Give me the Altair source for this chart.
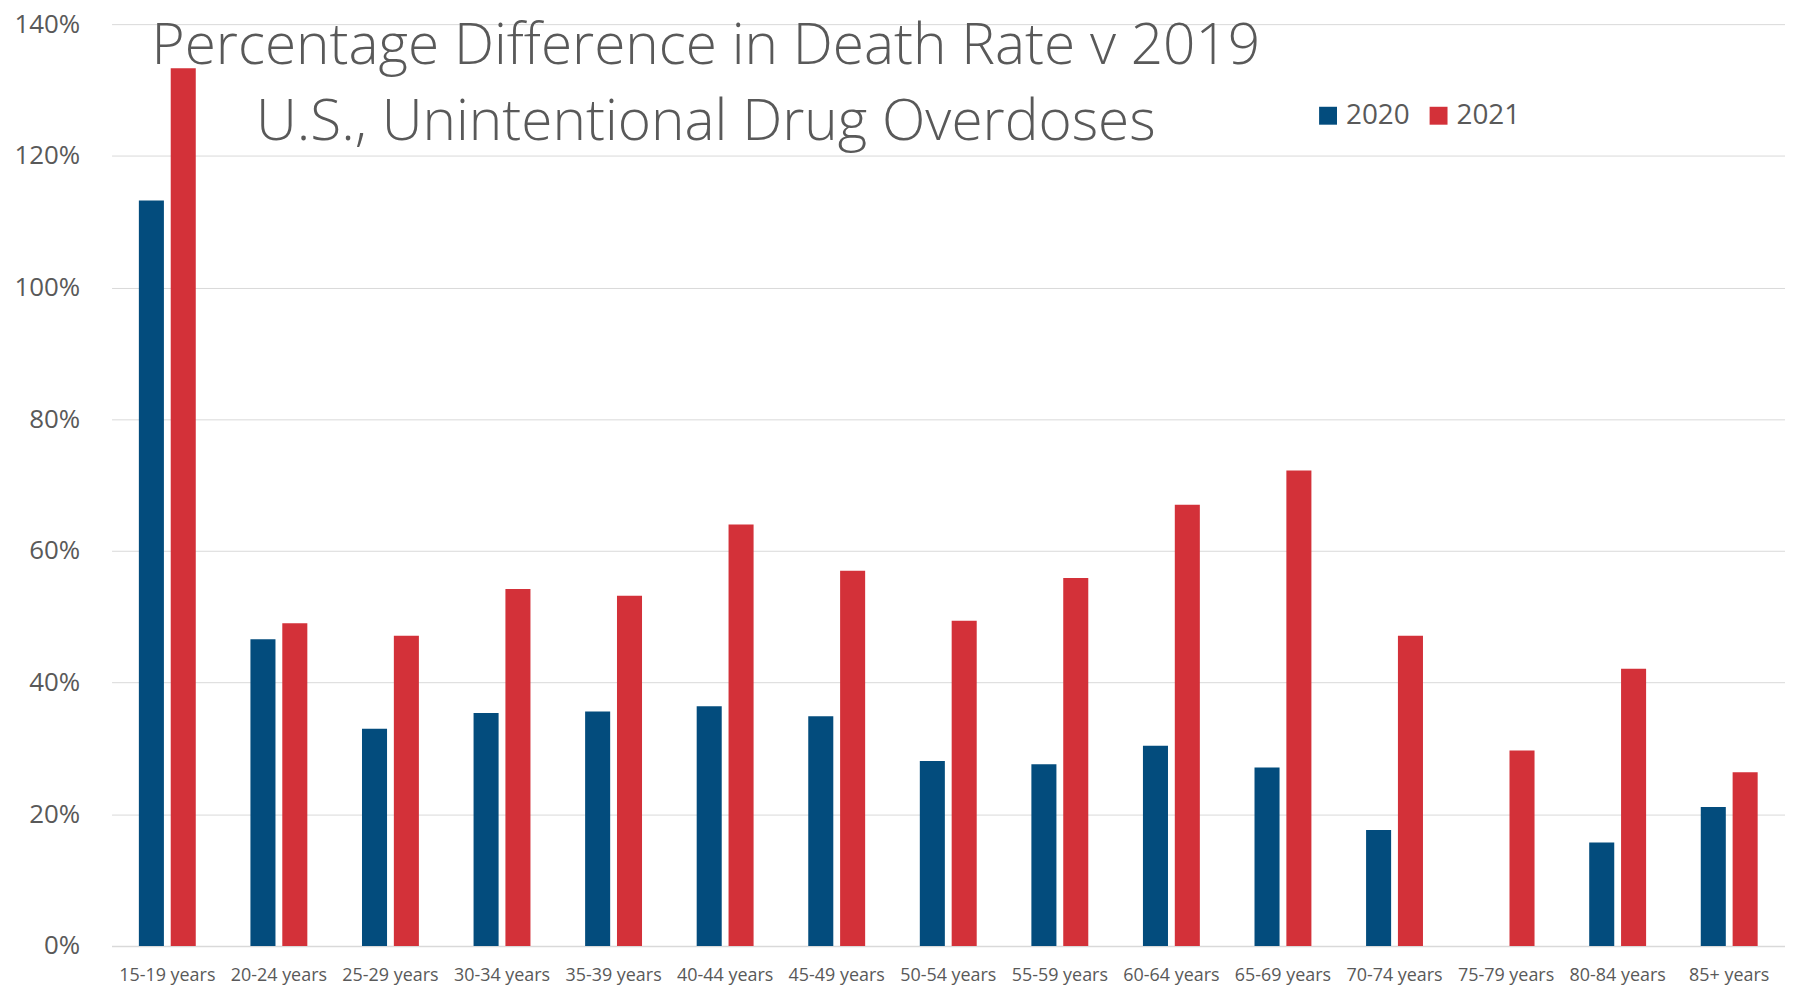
import altair as alt
import pandas as pd

ages = ["15-19 years", "20-24 years", "25-29 years", "30-34 years", "35-39 years",
        "40-44 years", "45-49 years", "50-54 years", "55-59 years", "60-64 years",
        "65-69 years", "70-74 years", "75-79 years", "80-84 years", "85+ years"]
years = ["2020", "2021"]
v2020 = [113.2, 46.6, 33.0, 35.4, 35.6, 36.4, 34.9, 28.1, 27.6, 30.4, 27.1, 17.6, None, 15.7, 21.1]
v2021 = [133.3, 49.0, 47.1, 54.2, 53.2, 64.0, 57.0, 49.4, 55.9, 67.0, 72.2, 47.1, 29.7, 42.1, 26.4]
y_ticks = [0, 0.2, 0.4, 0.6, 0.8, 1.0, 1.2, 1.4]
colors = ["#034C7D", "#D33139"]
title_lines = ["Percentage Difference in Death Rate v 2019", "U.S., Unintentional Drug Overdoses"]

rows = []
for a, p20, p21 in zip(ages, v2020, v2021):
    rows.append({"age": a, "year": "2020", "pct": None if p20 is None else p20 / 100})
    rows.append({"age": a, "year": "2021", "pct": None if p21 is None else p21 / 100})
df = pd.DataFrame(rows)

FONT = "Open Sans"
GREY = "#595959"

bars = alt.Chart(df).mark_bar().encode(
    x=alt.X("age:N", sort=ages, title=None,
            scale=alt.Scale(paddingInner=0.49, paddingOuter=0.245),
            axis=alt.Axis(labelAngle=0, labelFontSize=18, labelColor=GREY, labelFont=FONT,
                          ticks=False, domainColor="#D9D9D9", domainWidth=1.5,
                          labelPadding=21, grid=False, labelOverlap=False)),
    xOffset=alt.XOffset("year:N", sort=years,
                        scale=alt.Scale(paddingInner=0.214, paddingOuter=0)),
    y=alt.Y("pct:Q", title=None, scale=alt.Scale(domain=[0, 1.4], nice=False),
            axis=alt.Axis(format=".0%", values=y_ticks, labelFontSize=26, labelColor=GREY,
                          labelFont=FONT, ticks=False, domain=False, gridColor="#D9D9D9",
                          gridWidth=1, labelPadding=32)),
    color=alt.Color("year:N", sort=years,
                    scale=alt.Scale(domain=years, range=colors),
                    legend=alt.Legend(title=None, orient="none", direction="horizontal",
                                      legendX=1208, legendY=78, symbolType="square",
                                      symbolSize=324, symbolStrokeWidth=0, labelFontSize=28,
                                      labelFont=FONT, labelColor=GREY, labelOffset=4,
                                      columnPadding=14, padding=0)),
)

title_df = pd.DataFrame({"t": ["\n".join(title_lines)]})
title_text = alt.Chart(title_df).mark_text(
    lineBreak="\n", align="center", baseline="alphabetic", fontSize=57, font=FONT,
    fontWeight=300, color=GREY, lineHeight=76
).encode(x=alt.value(597), y=alt.value(40), text="t:N")

chart = alt.layer(bars, title_text).properties(
    width=1681, height=926,
    padding={"left": 104, "top": 14, "right": 0, "bottom": 45},
    autosize=alt.AutoSizeParams(type="none"),
).configure_view(stroke=None)

chart.save("out.html", embed_options={"renderer": "svg", "actions": False})
